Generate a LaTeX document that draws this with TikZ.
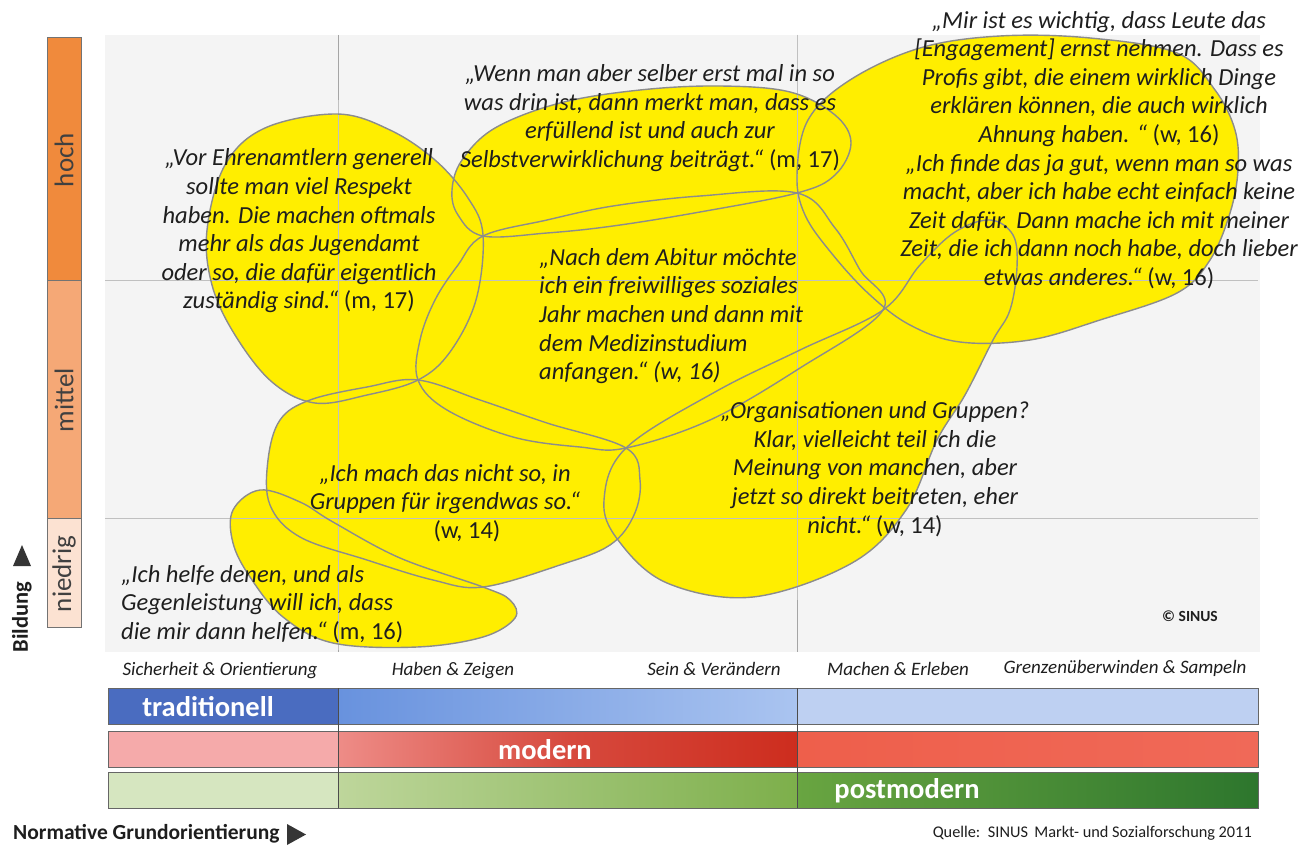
\documentclass[tikz,border=0pt]{standalone}
\usepackage{fontspec}
\setmainfont{Carlito}
\definecolor{blobY}{RGB}{255,238,0}
\definecolor{blobLine}{RGB}{140,140,140}
\definecolor{gridL}{RGB}{165,165,165}
\definecolor{plotBg}{RGB}{244,244,244}
\definecolor{txt}{RGB}{30,30,30}
\definecolor{hochC}{RGB}{240,138,60}
\definecolor{mittelC}{RGB}{245,168,118}
\definecolor{niedrigC}{RGB}{252,226,210}
\definecolor{tradA}{RGB}{74,108,192}
\definecolor{tradB}{RGB}{104,146,222}
\definecolor{tradC}{RGB}{170,196,240}
\definecolor{tradD}{RGB}{190,208,242}
\definecolor{modA}{RGB}{245,170,170}
\definecolor{modB}{RGB}{238,140,135}
\definecolor{modC}{RGB}{205,45,30}
\definecolor{modD}{RGB}{238,95,75}
\definecolor{modE}{RGB}{240,105,88}
\definecolor{postA}{RGB}{214,230,192}
\definecolor{postB}{RGB}{190,214,155}
\definecolor{postC}{RGB}{125,175,75}
\definecolor{postD}{RGB}{105,165,65}
\definecolor{postE}{RGB}{45,118,45}
\newcommand\blobPathA{plot[smooth cycle,tension=0.6] coordinates {(337,114) (390,130) (435,160) (468,198) (483,235) (476,300) (450,352) (418,380) (367,395) (315,403) (272,382) (235,335) (212,285) (207,230) (225,165) (265,128)}}
\newcommand\blobPathB{plot[smooth cycle,tension=0.6] coordinates {(483,236) (458,215) (452,190) (462,160) (495,128) (560,103) (640,90) (720,86) (790,92) (835,115) (851,143) (835,175) (797,193) (700,212) (613,226) (547,233)}}
\newcommand\blobPathC{plot[smooth cycle,tension=0.6] coordinates {(483,236) (547,220) (613,206) (700,196) (797,193) (835,228) (860,270) (883,310) (800,368) (710,420) (626,448) (580,447) (513,437) (447,410) (418,380) (420,340) (435,300) (458,265)}}
\newcommand\blobPathD{plot[smooth cycle,tension=0.6] coordinates {(418,380) (480,400) (547,423) (626,448) (640,480) (634,515) (610,545) (560,565) (483,587) (433,580) (367,560) (300,537) (270,505) (268,460) (280,420) (310,400) (367,387)}}
\newcommand\blobPathE{plot[smooth cycle,tension=0.6] coordinates {(626,448) (715,392) (800,350) (883,310) (920,265) (955,232) (990,220) (1013,235) (1017,267) (1010,310) (993,340) (965,395) (937,440) (906,510) (852,563) (753,597) (667,583) (618,540) (604,500)}}
\newcommand\blobPathF{plot[smooth cycle,tension=0.6] coordinates {(797,175) (808,120) (850,80) (920,48) (1000,36) (1090,38) (1177,53) (1215,90) (1235,130) (1238,170) (1230,213) (1210,260) (1177,293) (1100,320) (1030,340) (960,342) (910,325) (870,295) (833,255) (805,215)}}
\newcommand\blobPathG{plot[smooth cycle,tension=0.6] coordinates {(260,490) (300,502) (333,522) (400,558) (483,587) (510,600) (515,618) (483,637) (417,647) (333,643) (283,617) (250,577) (233,543) (233,510)}}
\tikzset{
  blobfill/.style={fill=blobY},
  blobedge/.style={draw=blobLine,line width=1.4pt},
  gridline/.style={draw=gridL,line width=0.9pt},
  quote/.style={text=txt,align=center,inner sep=0pt,font=\fontsize{24.5}{28.6}\selectfont\itshape},
  quoteL/.style={quote,align=left},
  scale label/.style={text=txt!85,inner sep=0pt,rotate=90,font=\fontsize{27}{27}\selectfont},
  col label/.style={text=txt,inner sep=0pt,font=\fontsize{19}{19}\selectfont\itshape},
  bar label/.style={text=white,inner sep=0pt,font=\fontsize{28.5}{28.5}\selectfont\bfseries},
  bar edge/.style={draw=black!60,line width=0.8pt},
}
\begin{document}
\begin{tikzpicture}[x=1pt,y=-1pt]
\useasboundingbox (0,0) rectangle (1305,848);
\fill[white] (0,0) rectangle (1305,848);
% plot background
\fill[plotBg] (105,35) rectangle (1260,652);
% grid
\draw[gridline] (338,35) -- (338,652);
\draw[gridline] (797,35) -- (797,652);
\draw[gridline] (105,280) -- (1258,280);
\draw[gridline] (105,518) -- (1258,518);
% blobs
\fill[blobfill] \blobPathA;
\fill[blobfill] \blobPathB;
\fill[blobfill] \blobPathC;
\fill[blobfill] \blobPathD;
\fill[blobfill] \blobPathE;
\fill[blobfill] \blobPathF;
\fill[blobfill] \blobPathG;
% grid over yellow (faint)
\draw[gridL!70,line width=0.6pt] (338,100) -- (338,650);
\draw[gridL!70,line width=0.6pt] (797,35) -- (797,600);
\draw[gridL!70,line width=0.6pt] (105,280) -- (1258,280);
\draw[gridL!70,line width=0.6pt] (105,518) -- (1258,518);
\draw[blobedge] \blobPathA;
\draw[blobedge] \blobPathB;
\draw[blobedge] \blobPathC;
\draw[blobedge] \blobPathD;
\draw[blobedge] \blobPathE;
\draw[blobedge] \blobPathF;
\draw[blobedge] \blobPathG;
% quotes
\node[quote] (q1) at (299,231) {„Vor Ehrenamtlern generell\\sollte man viel Respekt\\haben. Die machen oftmals\\mehr als das Jugendamt\\oder so, die dafür eigentlich\\zuständig sind.“ {\upshape(m, 17)}};
\node[quote] (q2) at (650,118) {„Wenn man aber selber erst mal in so\\was drin ist, dann merkt man, dass es\\erfüllend ist und auch zur\\Selbstverwirklichung beiträgt.“ {\upshape(m, 17)}};
\node[quote] (q3) at (1099,150) {„Mir ist es wichtig, dass Leute das\\{}[Engagement] ernst nehmen. Dass es\\Profis gibt, die einem wirklich Dinge\\erklären können, die auch wirklich\\Ahnung haben. “ {\upshape(w, 16)}\\„Ich finde das ja gut, wenn man so was\\macht, aber ich habe echt einfach keine\\Zeit dafür. Dann mache ich mit meiner\\Zeit, die ich dann noch habe, doch lieber\\etwas anderes.“ {\upshape(w, 16)}};
\node[quoteL,anchor=west] (q5) at (539,316) {„Nach dem Abitur möchte\\ich ein freiwilliges soziales\\Jahr machen und dann mit\\dem Medizinstudium\\anfangen.“ (w, 16)};
\node[quote] (q6) at (875,469) {„Organisationen und Gruppen?\\Klar, vielleicht teil ich die\\Meinung von manchen, aber\\jetzt so direkt beitreten, eher\\nicht.“ {\upshape(w, 14)}};
\node[quote] (q7) at (445,503) {„Ich mach das nicht so, in\\Gruppen für irgendwas so.“\\\hspace*{44pt}{\upshape(w, 14)}};
\node[quoteL,anchor=west] (q8) at (121,604) {„Ich helfe denen, und als\\Gegenleistung will ich, dass\\die mir dann helfen.“ {\upshape(m, 16)}};
\node[text=txt,inner sep=0pt,font=\fontsize{15.5}{15.5}\selectfont\bfseries] (copy) at (1190,616) {© SINUS};
% Bildung scale
\fill[hochC] (47,37) rectangle (81,280);
\fill[mittelC] (47,280) rectangle (81,518);
\fill[niedrigC] (47,518) rectangle (81,627);
\draw[black!55,line width=0.8pt] (47,37) rectangle (81,627);
\draw[black!55,line width=0.6pt] (47,280) -- (81,280) (47,518) -- (81,518);
\node[scale label] (hoch) at (64,160) {hoch};
\node[scale label] (mittel) at (64,400) {mittel};
\node[scale label] (niedrig) at (64,574) {niedrig};
\node[rotate=90,inner sep=0pt,text=txt,font=\fontsize{22.5}{22.5}\selectfont\bfseries] (bildung) at (22,617) {Bildung};
\fill[txt!90] (13,566) -- (31,566) -- (22,545) -- cycle;
% column labels
\node[col label] (c1) at (220,671) {Sicherheit \& Orientierung};
\node[col label] (c2) at (453,671) {Haben \& Zeigen};
\node[col label] (c3) at (714,669) {Sein \& Verändern};
\node[col label] (c4) at (898,669) {Machen \& Erleben};
\node[col label] (c5) at (1125,668) {Grenzenüberwinden \& Sampeln};
% bars
\fill[tradA] (108,688) rectangle (338,724);
\shade[left color=tradB,right color=tradC] (338,688) rectangle (797,724);
\fill[tradD] (797,688) rectangle (1258,724);
\draw[bar edge] (108,688) rectangle (1258,724);
\fill[modA] (108,731) rectangle (338,767);
\shade[left color=modB,right color=modC,middle color=modC!70!modB] (338,731) rectangle (797,767);
\shade[left color=modD,right color=modE] (797,731) rectangle (1258,767);
\draw[bar edge] (108,731) rectangle (1258,767);
\fill[postA] (108,772) rectangle (338,808);
\shade[left color=postB,right color=postC] (338,772) rectangle (797,808);
\shade[left color=postD,right color=postE] (797,772) rectangle (1258,808);
\draw[bar edge] (108,772) rectangle (1258,808);
\draw[black!70,line width=0.8pt] (338,688) -- (338,808);
\draw[black!70,line width=0.8pt] (797,688) -- (797,808);
\node[bar label] (trad) at (208,707) {traditionell};
\node[bar label] (mod) at (545,750) {modern};
\node[bar label] (post) at (907,791) {postmodern};
% x axis title
\node[anchor=west,inner sep=0pt,text=txt,font=\fontsize{21.5}{21.5}\selectfont\bfseries] (norm) at (13,834) {Normative Grundorientierung};
\fill[txt!90] (287,824) -- (287,845) -- (306,834.5) -- cycle;
\node[anchor=east,inner sep=0pt,text=txt,font=\fontsize{16.3}{16.3}\selectfont] (quelle) at (1252,833) {Quelle: \,SINUS \,Markt- und Sozialforschung 2011};
\end{tikzpicture}
\end{document}
